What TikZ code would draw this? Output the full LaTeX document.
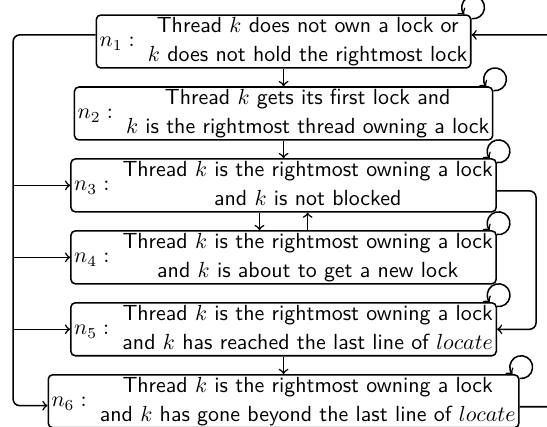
\documentclass[tikz,border=0pt]{standalone}
\usetikzlibrary{positioning}
\renewcommand{\arraystretch}{1.09}
\tikzset{
  state/.style={draw, rounded corners=2pt, inner xsep=1.5pt, inner ysep=-1pt, font=\sffamily},
  selfloop/.style={->}
}
\begin{document}
\begin{tikzpicture}[node distance=8pt, line width=0.7pt]
    \useasboundingbox (-129.5pt,18.95pt) rectangle (120.3pt,-175.6pt);
    \node[state] (n1) at (0,0) {$n_1:$\begin{tabular}{c@{}}Thread $k$ does not own a lock or\\ $k$ does not hold the rightmost lock\end{tabular}};
    \node[state, below=of n1] (n2) {$n_2:$\begin{tabular}{c@{}}Thread $k$ gets its first lock and\\ $k$ is the rightmost thread owning a lock\end{tabular}};
    \node[state, below=of n2] (n3) {$n_3:$\begin{tabular}{c@{}}Thread $k$ is the rightmost owning a lock\\ and $k$ is not blocked\end{tabular}};
    \node[state, below=of n3] (n4) {$n_4:$\begin{tabular}{c@{}}Thread $k$ is the rightmost owning a lock\\ and $k$ is about to get a new lock\end{tabular}};
    \node[state, below=of n4] (n5) {$n_5:$\begin{tabular}{c@{}}Thread $k$ is the rightmost owning a lock\\ and $k$ has reached the last line of $locate$\end{tabular}};
    \node[state, below=of n5] (n6) {$n_6:$\begin{tabular}{c@{}}Thread $k$ is the rightmost owning a lock\\ and $k$ has gone beyond the last line of $locate$\end{tabular}};
    \coordinate (l) at (-123.5pt,-80pt);
    \coordinate (r) at (124pt,-80pt);
    \coordinate (m) at (115.3pt,-80pt);
    \foreach \i in {1,...,6}
      \draw[selfloop] ([yshift=-2pt]n\i.north east) arc[start angle=-98, delta angle=317, radius=5.2pt];
    \draw[->] (n1) -- (n2);
    \draw[->] (n2) -- (n3);
    \draw[->] ([xshift=-11pt]n3.south) -- ([xshift=-11pt]n4.north);
    \draw[->] ([xshift=11pt]n4.north) -- ([xshift=11pt]n3.south);
    \draw[->] (n5) -- (n6);
    \draw[->, rounded corners=3pt] ([yshift=3pt]n1.west) -| (l) |- ([yshift=-2pt]n6.west);
    \foreach \i in {3,4,5}
      \draw[->] (l |- n\i.west) -- (n\i.west);
    \draw[->, rounded corners=3pt] ([yshift=-2.5pt]n3.east) -| (m) |- (n5.east);
    \draw[->, rounded corners=3pt] ([yshift=-2.5pt]n6.east) -| (r) |- ([yshift=3pt]n1.east);
\end{tikzpicture}
\end{document}
